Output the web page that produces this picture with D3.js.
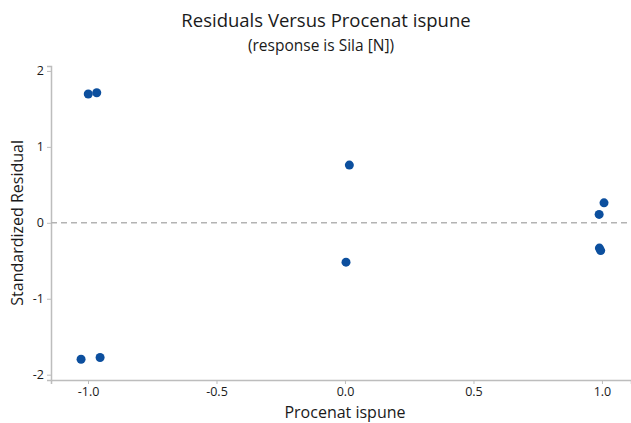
<!DOCTYPE html>
<html>
<head>
<meta charset="utf-8">
<script src="https://cdn.jsdelivr.net/npm/d3@7"></script>
<style>
  body { margin: 0; background: #fff; }
  text { font-family: "Open Sans", "Noto Sans", sans-serif; fill: #1a1a1a; }
</style>
</head>
<body>
<div id="chart"></div>
<script>
var svgWidth = 631;
var svgHeight = 423;

// data
var fill = [-0.999, -0.966, -1.027, -0.953, 0.017, 0.004, 1.008, 0.989, 0.990, 0.995];
var resid = [1.696, 1.713, -1.796, -1.773, 0.760, -0.518, 0.263, 0.111, -0.333, -0.366];
var xTicks = [-1.0, -0.5, 0.0, 0.5, 1.0];
var yTicks = [-2, -1, 0, 1, 2];

var margin = { top: 66, right: 0, bottom: 43, left: 51 };
var width = svgWidth - margin.left - margin.right;
var height = svgHeight - margin.top - margin.bottom;

var svg = d3.select("#chart")
    .append("svg")
    .attr("width", svgWidth)
    .attr("height", svgHeight);

var chartGroup = svg.append("g")
    .attr("transform", `translate(${margin.left}, ${margin.top})`);

var xScale = d3.scaleLinear()
    .domain([-1.144, 1.113])
    .range([0, width]);

var yScale = d3.scaleLinear()
    .domain([-2.07, 2.065])
    .range([height, 0]);

// plain hyphen for negatives, like the original
var bottomAxis = d3.axisBottom(xScale).tickValues(xTicks)
    .tickFormat(d => d.toFixed(1)).tickSizeOuter(0).tickSize(4);
var leftAxis = d3.axisLeft(yScale).tickValues(yTicks)
    .tickFormat(d => String(d)).tickSizeOuter(0).tickSize(4);

var xg = chartGroup.append("g")
    .attr("transform", `translate(0, ${height})`)
    .call(bottomAxis);

var yg = chartGroup.append("g")
    .call(leftAxis);

[xg, yg].forEach(function (g) {
    g.select(".domain").attr("stroke", "#bdbdbd").attr("stroke-width", 1.5);
    g.selectAll(".tick line").attr("stroke", "#bdbdbd");
    g.selectAll(".tick text")
        .attr("font-size", "12.5px")
        .attr("fill", "#1a1a1a")
        .style("font-family", "'Open Sans', 'Noto Sans', sans-serif");
});

// reference line at zero
chartGroup.append("line")
    .attr("x1", 0)
    .attr("x2", width)
    .attr("y1", yScale(0))
    .attr("y2", yScale(0))
    .attr("stroke", "#b3b3b3")
    .attr("stroke-width", 1.5)
    .attr("stroke-dasharray", "6,4");

chartGroup.selectAll("circle")
    .data(fill)
    .enter()
    .append("circle")
    .attr("cx", d => xScale(d))
    .attr("cy", (d, i) => yScale(resid[i]))
    .attr("r", 4.5)
    .attr("fill", "#0c4f9e");

// titles
svg.append("text")
    .attr("x", 326)
    .attr("y", 27)
    .attr("text-anchor", "middle")
    .attr("font-size", "18.5px")
    .text("Residuals Versus Procenat ispune");

svg.append("text")
    .attr("x", 321)
    .attr("y", 51)
    .attr("text-anchor", "middle")
    .attr("font-size", "15.5px")
    .text("(response is Sila [N])");

svg.append("text")
    .attr("x", margin.left + xScale(0))
    .attr("y", 418)
    .attr("text-anchor", "middle")
    .attr("font-size", "16px")
    .text("Procenat ispune");

svg.append("text")
    .attr("transform", "rotate(-90)")
    .attr("x", -(margin.top + yScale(0)))
    .attr("y", 23)
    .attr("text-anchor", "middle")
    .attr("font-size", "16px")
    .text("Standardized Residual");
</script>
</body>
</html>
